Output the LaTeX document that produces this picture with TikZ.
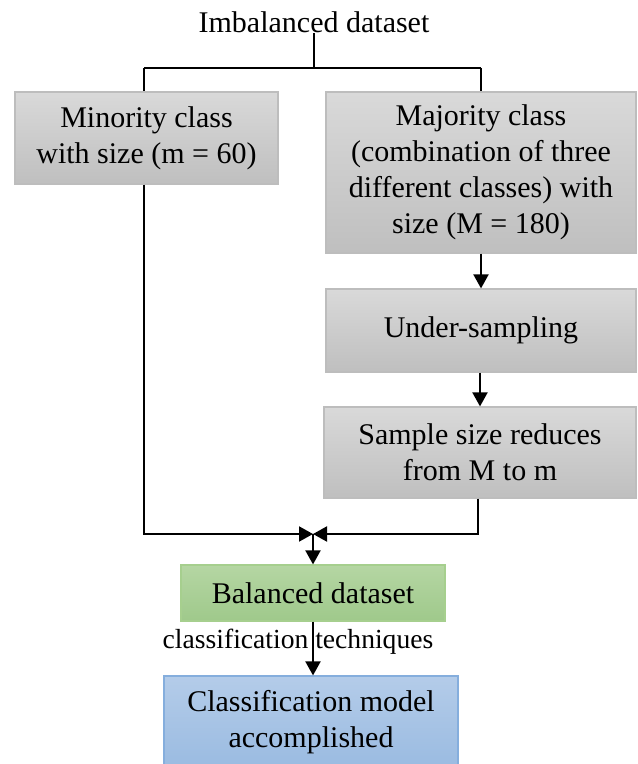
\documentclass[tikz,border=0pt]{standalone}
\usepackage{fontspec}
\setmainfont{Liberation Serif}
\usetikzlibrary{arrows.meta,shadings}
\definecolor{grayTop}{HTML}{D9D9D9}
\definecolor{grayBot}{HTML}{BFBFBF}
\definecolor{grayEdge}{HTML}{BDBDBD}
\definecolor{greenTop}{HTML}{B5D6A3}
\definecolor{greenBot}{HTML}{9FC98B}
\definecolor{greenEdge}{HTML}{A6CF8E}
\definecolor{blueTop}{HTML}{B4CCE9}
\definecolor{blueBot}{HTML}{9ABBE1}
\definecolor{blueEdge}{HTML}{85AEDD}
\tikzset{
  box/.style={draw=grayEdge, line width=0.6pt, top color=grayTop, bottom color=grayBot,
    align=center, inner sep=0pt, font=\fontsize{15}{18}\selectfont},
  greenbox/.style={box, draw=greenEdge, top color=greenTop, bottom color=greenBot},
  bluebox/.style={box, draw=blueEdge, top color=blueTop, bottom color=blueBot},
  conn/.style={line width=1pt, black},
  arr/.style={conn, -{Triangle[length=7pt,width=7.5pt]}},
  plain/.style={font=\fontsize{15}{18}\selectfont, inner sep=0pt},
  lbl/.style={font=\fontsize{13.8}{16}\selectfont, inner sep=0pt}
}
\begin{document}
\begin{tikzpicture}[x=0.5pt,y=-0.5pt]
\useasboundingbox (0,0) rectangle (637,764);
\node[plain] (imb) at (314,22) {Imbalanced dataset};
\node[box, minimum width=131.5pt, minimum height=46pt] (min) at (146.5,138)
  {Minority class\\with size (m = 60)};
\node[box, minimum width=155pt, minimum height=80.5pt] (maj) at (481,172.5)
  {Majority class\\(combination of three\\different classes) with\\size (M = 180)};
\node[box, minimum width=155pt, minimum height=41.5pt] (und) at (481,330.5)
  {Under-sampling};
\node[box, minimum width=156pt, minimum height=45.5pt] (smp) at (480,452.5)
  {Sample size reduces\\from M to m};
\node[greenbox, minimum width=132pt, minimum height=28pt] (bal) at (313,593)
  {Balanced dataset};
\node[bluebox, minimum width=147pt, minimum height=46pt] (mod) at (311,722)
  {Classification model\\accomplished};
\coordinate (top) at (314,68);
\coordinate (tl) at (144,68);
\coordinate (tr) at (481,68);
\coordinate (join) at (313,534);
\coordinate (bl) at (144,534);
\coordinate (br) at (478,534);
\coordinate (mx) at (480,0);
% top split
\draw[conn] (imb.south) -- (top);
\draw[conn] (tl) -- (tr);
\draw[conn] (tl) -- (tl |- min.north);
\draw[conn] (tr) -- (tr |- maj.north);
% right chain
\draw[arr] (maj.south -| tr) -- (und.north -| tr);
\draw[arr] (und.south -| mx) -- (smp.north -| mx);
% merge
\draw[arr] (min.south -| bl) -- (bl) -- (join);
\draw[arr] (smp.south -| br) -- (br) -- (join);
\draw[arr] (join) -- (bal.north);
% classification
\draw[arr] (bal.south) -- (bal.south |- mod.north);
\node[lbl] (lab) at (298,642) {classification techniques};
\end{tikzpicture}
\end{document}
